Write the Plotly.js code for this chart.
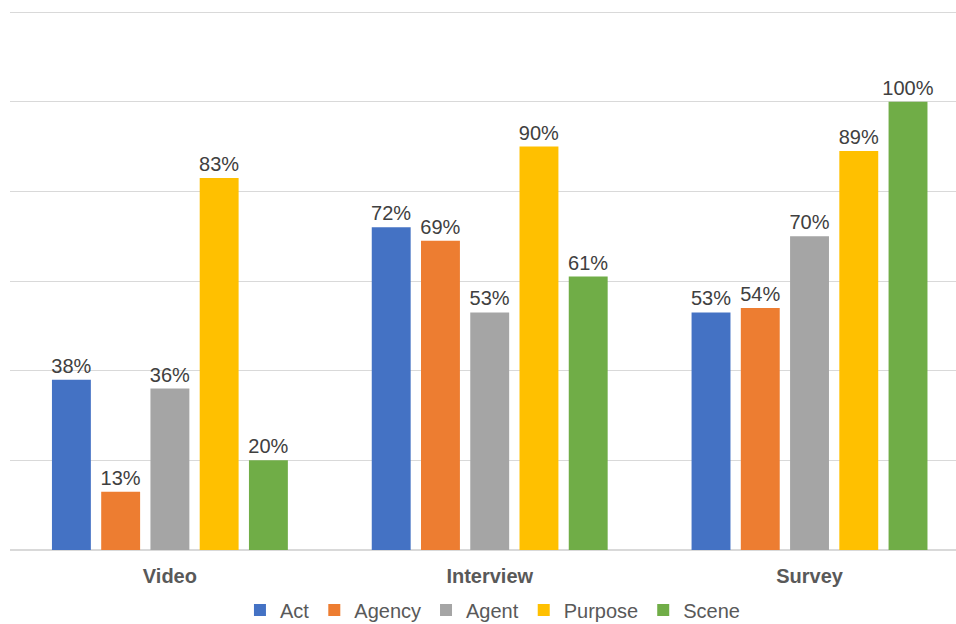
<!DOCTYPE html>
<html>
<head>
<meta charset="utf-8">
<script src="https://cdn.plot.ly/plotly-3.0.1.min.js"></script>
<style>html,body{margin:0;padding:0;background:#fff;}#chart{width:956px;height:624px;}</style>
</head>
<body>
<div id="chart"></div>
<script>
const categories = ["Video", "Interview", "Survey"];
const seriesNames = ["Act", "Agency", "Agent", "Purpose", "Scene"];
const act = [0.38, 0.72, 0.53];
const agency = [0.13, 0.69, 0.54];
const agent = [0.36, 0.53, 0.70];
const purpose = [0.83, 0.90, 0.89];
const scene = [0.20, 0.61, 1.00];
const colors = ["#4472C4", "#ED7D31", "#A5A5A5", "#FFC000", "#70AD47"];

const values = [act, agency, agent, purpose, scene];
const traces = values.map((v, i) => ({
  type: "bar",
  name: seriesNames[i],
  x: categories,
  y: v,
  marker: {color: colors[i]},
  text: v.map(d => Math.round(d * 100) + "%"),
  textposition: "outside",
  constraintext: "none",
  cliponaxis: false,
  textfont: {family: "Liberation Sans, Arial, sans-serif", size: 20, color: "#404040"},
  hoverinfo: "skip"
}));

const layout = {
  width: 956, height: 624,
  margin: {l: 10, r: 0, t: 10, b: 74, autoexpand: false},
  paper_bgcolor: "#fff", plot_bgcolor: "#fff",
  barmode: "group",
  bargap: 0.23,
  bargroupgap: 0.21,
  showlegend: true,
  legend: {
    orientation: "h", x: 0.51, xanchor: "center", y: -0.111, yanchor: "middle",
    font: {family: "Liberation Sans, Arial, sans-serif", size: 20, color: "#595959"},
    itemwidth: 30, traceorder: "normal"
  },
  xaxis: {
    type: "category",
    range: [-0.5, 2.458],
    showgrid: false, zeroline: false, showline: false,
    ticks: "", ticklabelstandoff: 12,
    tickfont: {family: "Liberation Sans, Arial, sans-serif", size: 20, color: "#595959", weight: "bold"}
  },
  yaxis: {
    range: [0, 1.2045],
    tick0: 0,
    dtick: 0.2,
    showticklabels: false,
    ticks: "",
    showgrid: true, gridcolor: "#D9D9D9", gridwidth: 1,
    zeroline: true, zerolinecolor: "#D9D9D9", zerolinewidth: 2,
    showline: false
  }
};

Plotly.newPlot("chart", traces, layout, {displayModeBar: false, staticPlot: true});
</script>
</body>
</html>
